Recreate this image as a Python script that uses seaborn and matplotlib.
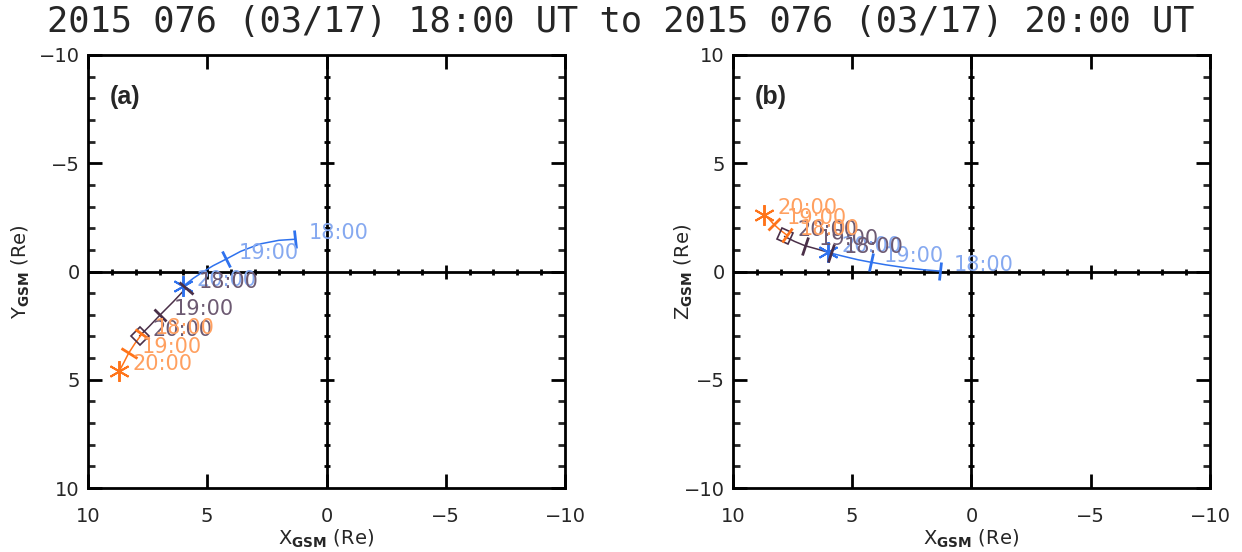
import numpy as np
import matplotlib
matplotlib.use('Agg')
import matplotlib.pyplot as plt
from matplotlib.markers import MarkerStyle
from matplotlib.transforms import Affine2D
from matplotlib.ticker import MultipleLocator
import seaborn as sns

sns.set_style('ticks')
plt.rcParams['font.family'] = ['DejaVu Sans']
plt.rcParams['mathtext.fontset'] = 'dejavusans'

# --- data (Re, GSM) ---
title_text = '2015 076 (03/17) 18:00 UT to 2015 076 (03/17) 20:00 UT'
hour_labels = ['18:00', '19:00', '20:00']

blue_x = [1.32, 2.0, 2.8, 3.6, 4.23, 4.75, 5.17, 5.58, 6.0]
blue_y = [-1.49, -1.44, -1.27, -0.93, -0.56, -0.27, 0.01, 0.31, 0.67]
blue_z = [0.02, 0.08, 0.18, 0.31, 0.43, 0.54, 0.65, 0.76, 0.88]
blue_hours = [0, 4, 8]

purple_x = [5.9, 6.42, 6.98, 7.42, 7.84]
purple_y = [0.78, 1.39, 2.01, 2.52, 2.98]
purple_z = [0.85, 1.02, 1.19, 1.39, 1.62]
purple_hours = [0, 2, 4]

orange_x = [7.75, 8.03, 8.3, 8.49, 8.68]
orange_y = [2.90, 3.32, 3.78, 4.19, 4.58]
orange_z = [1.69, 1.92, 2.19, 2.42, 2.63]
orange_hours = [0, 2, 4]

segments = [
    # x, y, z, hour idx, line colour, label colour, end marker
    (blue_x, blue_y, blue_z, blue_hours, '#2f72ee', '#86a9f0', 'star'),
    (purple_x, purple_y, purple_z, purple_hours, '#4a2f48', '#6d5a72', 'box'),
    (orange_x, orange_y, orange_z, orange_hours, '#ff741a', '#ffa060', 'star'),
]


def rotated(marker, angle):
    return MarkerStyle(marker, transform=Affine2D().rotate_deg(angle))


def path_angle(ax, xs, ys, i):
    pts = ax.transData.transform(np.column_stack([xs, ys]))
    a = max(i - 1, 0)
    b = min(i + 1, len(xs) - 1)
    d = pts[b] - pts[a]
    return np.degrees(np.arctan2(d[1], d[0]))


def draw_panel(ax, comp, ylabel, tag, invert_y):
    ax.set_xlim(10, -10)
    if invert_y:
        ax.set_ylim(10, -10)
    else:
        ax.set_ylim(-10, 10)
    ax.set_xticks([10, 5, 0, -5, -10])
    ax.set_yticks([-10, -5, 0, 5, 10])
    ax.yaxis.set_minor_locator(MultipleLocator(1))
    ax.tick_params(which='major', direction='in', top=True, right=True,
                   length=10, width=2, labelsize=14, color='black')
    ax.tick_params(axis='x', which='major', pad=14)
    ax.tick_params(axis='y', which='major', pad=6)
    ax.tick_params(axis='y', which='minor', direction='in', right=True,
                   length=5, width=2)
    for sp in ax.spines.values():
        sp.set_linewidth(2)
        sp.set_color('black')

    # crosshair through the origin
    ax.axhline(0, color='black', lw=2, zorder=2)
    ax.axvline(0, color='black', lw=2, zorder=2)
    ks = np.arange(-9, 10)
    minor = ks[ks % 5 != 0]
    major = ks[(ks % 5 == 0) & (ks != 0)]
    ax.scatter(minor, np.zeros_like(minor), marker='|', s=25, lw=2,
               color='black', zorder=2)
    ax.scatter(major, np.zeros_like(major), marker='|', s=110, lw=2,
               color='black', zorder=2)
    ax.scatter(np.zeros_like(minor), minor, marker='_', s=25, lw=2,
               color='black', zorder=2)
    ax.scatter(np.zeros_like(major), major, marker='_', s=110, lw=2,
               color='black', zorder=2)

    for xs, ys_y, ys_z, hours, lc, tc, end in segments:
        ys = ys_y if comp == 'y' else ys_z
        sns.lineplot(x=xs, y=ys, ax=ax, sort=False, estimator=None,
                     color=lc, lw=1.1, zorder=3)
        for k, idx in enumerate(hours):
            ang = path_angle(ax, xs, ys, idx)
            if k < 2:
                ax.plot(xs[idx], ys[idx], marker=rotated('|', ang),
                        ms=13, mew=2, color=lc, zorder=4)
            elif end == 'star':
                ax.plot(xs[idx], ys[idx], marker=(6, 2, 0), ms=15,
                        mew=1.4, color=lc, zorder=4)
            else:
                ax.plot(xs[idx], ys[idx], marker=rotated('s', ang), ms=9,
                        mew=1.2, mfc='none', mec=lc, zorder=4)
            ax.annotate(hour_labels[k], (xs[idx], ys[idx]),
                        xytext=(9.5, 4.5), textcoords='offset points',
                        ha='left', va='center', fontsize=15, color=tc,
                        zorder=5)

    ax.set_xlabel(r'X$_{\mathbf{GSM}}$ (Re)', fontsize=14)
    ax.set_ylabel(ylabel, fontsize=14)
    ax.xaxis.set_label_coords(0.5, -0.092)
    ax.text(0.046, 0.903, tag, transform=ax.transAxes, fontsize=18,
            fontweight='bold', family='Liberation Sans', va='center')


fig = plt.figure(figsize=(12.42, 5.52), dpi=100)
ax_a = fig.add_axes([88 / 1242, 1 - 488 / 552, 477 / 1242, 433 / 552])
ax_b = fig.add_axes([733 / 1242, 1 - 488 / 552, 477 / 1242, 433 / 552])

draw_panel(ax_a, 'y', r'Y$_{\mathbf{GSM}}$ (Re)', '(a)', invert_y=True)
draw_panel(ax_b, 'z', r'Z$_{\mathbf{GSM}}$ (Re)', '(b)', invert_y=False)
ax_a.yaxis.set_label_coords(-0.117, 0.5)
ax_b.yaxis.set_label_coords(-0.08, 0.5)

fig.text(0.5, 0.96, title_text, ha='center', va='center', fontsize=25.5,
         family='DejaVu Sans Mono')

fig.savefig('out.png', dpi=100, facecolor='white')
